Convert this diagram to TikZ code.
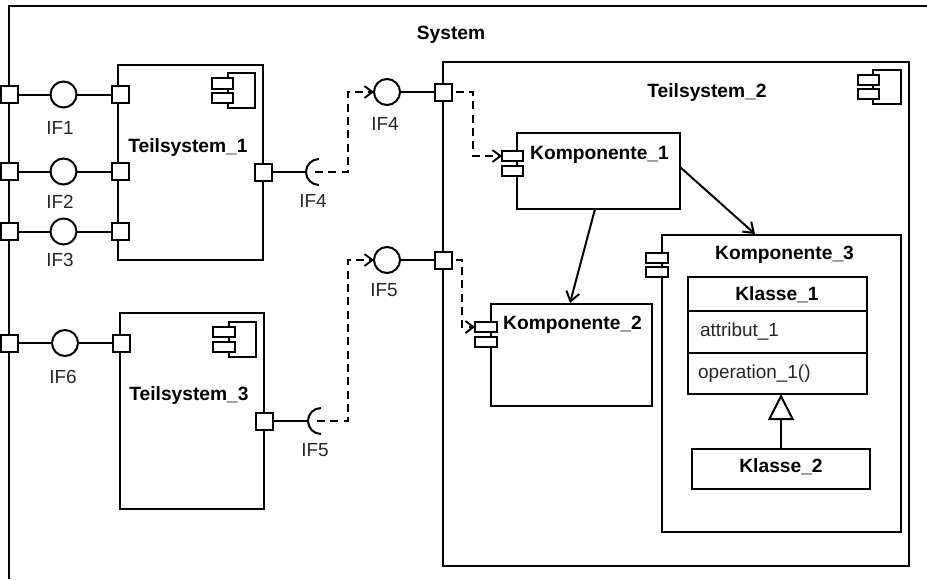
\documentclass[tikz,border=0pt]{standalone}
\usepackage{fontspec}
\setmainfont{Liberation Sans}
\usetikzlibrary{arrows.meta}
\newcommand{\pxbox}[6][]{\node[boxed,#1,minimum width={(#5-#3)*.75pt},minimum height={(#6-#4)*.75pt}] (#2) at ({(#3+#5)/2},{(#4+#6)/2}) {};}
\tikzset{
  boxed/.style={draw=black,fill=white,line width=1.5pt,inner sep=0pt,outer sep=0pt,rectangle},
  port/.style={boxed,minimum size=12.75pt},
  lolly/.style={draw=black,fill=white,line width=1.5pt,circle,inner sep=0pt,outer sep=0pt,minimum size=19.5pt},
  conn/.style={line width=1.5pt,black},
  dep/.style={line width=1.4pt,black,dash pattern=on 6pt off 4pt,-{Straight Barb[length=6pt,width=9pt,line width=1.4pt]}},
  assoc/.style={line width=1.5pt,black,-{Straight Barb[length=7pt,width=10pt,line width=1.5pt]}},
  lbl/.style={font=\fontsize{14.2}{16}\selectfont,inner sep=0pt,outer sep=0pt,text=black!85},
  ttl/.style={font=\fontsize{14.4}{16}\selectfont\bfseries,inner sep=0pt,outer sep=0pt,text=black},
  txl/.style={font=\fontsize{14.2}{16}\selectfont,inner sep=0pt,outer sep=0pt,anchor=west,text=black!85},
  gen/.style={line width=1.5pt,black,-{Triangle[open,fill=white,length=19.5pt,width=19.5pt,line width=1.5pt]}},
}
\begin{document}
\begin{tikzpicture}[x=.75pt,y=-.75pt]
\useasboundingbox (0,0) rectangle (927,579);
% system frame
\coordinate (sysA) at (9,579);
\coordinate (sysB) at (9,6);
\coordinate (sysC) at (927,6);
\draw[conn] (sysA) -- (sysB) -- (sysC);
\node[ttl] (system) at (451,35) {System};
% Teilsystem 1
\pxbox{t1}{118}{65}{263}{260}
\pxbox{t1ia}{228}{73}{255}{108}
\pxbox{t1ib}{212}{78}{233}{89}
\pxbox{t1ic}{212}{93}{233}{103}
\node[ttl] (t1l) at (188,148) {Teilsystem\_1};
% Teilsystem 3
\pxbox{t3}{120}{313}{264}{509}
\pxbox{t3ia}{229}{322}{256}{357}
\pxbox{t3ib}{213}{327}{235}{337}
\pxbox{t3ic}{213}{342}{235}{352}
\node[ttl] (t3l) at (189,396) {Teilsystem\_3};
% Teilsystem 2
\pxbox{t2}{443}{62}{909}{566}
\pxbox{t2ia}{873}{70}{901}{104}
\pxbox{t2ib}{858}{75}{879}{85}
\pxbox{t2ic}{858}{89}{879}{99}
\node[ttl] (t2l) at (707,93) {Teilsystem\_2};
% Komponente 1
\pxbox{k1}{517}{133}{680}{209}
\pxbox{k1a}{502}{151}{523}{161}
\pxbox{k1b}{502}{166}{523}{176}
\node[ttl] (k1l) at (599.5,155) {Komponente\_1};
% Komponente 2
\pxbox{k2}{491}{304}{652}{406}
\pxbox{k2a}{475}{322}{497}{332}
\pxbox{k2b}{475}{337}{497}{347}
\node[ttl] (k2l) at (572.5,325) {Komponente\_2};
% Komponente 3
\pxbox{k3}{662}{235}{901}{532}
\pxbox{k3a}{646}{253}{668}{263}
\pxbox{k3b}{646}{267}{668}{277}
\node[ttl] (k3l) at (784.5,255) {Komponente\_3};
% classes
\pxbox{c1}{688}{277}{867}{311}
\pxbox{c1b}{688}{311}{867}{353}
\pxbox{c1c}{688}{353}{867}{394}
\node[ttl] (c1l) at (777,295) {Klasse\_1};
\node[txl] (c1a) at (700,332) {attribut\_1};
\node[txl] (c1o) at (698,374) {operation\_1()};
\pxbox{c2}{692}{449}{870}{489}
\node[ttl] (c2l) at (781,467) {Klasse\_2};
\draw[gen] (c2.north) -- (c2.north |- c1c.south);
% left ports
\node[port] (s1) at (9.5,94.5) {};
\node[port] (s2) at (9.5,171.5) {};
\node[port] (s3) at (9.5,231.5) {};
\node[port] (s6) at (9.5,343) {};
% subsystem ports
\node[port] (t1p1) at (120,94.5) {};
\node[port] (t1p2) at (120,171.5) {};
\node[port] (t1p3) at (120,231.5) {};
\node[port] (t1p4) at (263,172) {};
\node[port] (t3p1) at (121,343) {};
\node[port] (t3p2) at (264,421) {};
\node[port] (t2p1) at (443,92) {};
\node[port] (t2p2) at (443,260) {};
% lollipops
\node[lolly] (i1) at (63.5,94.5) {};
\node[lolly] (i2) at (63.5,171.5) {};
\node[lolly] (i3) at (63.5,231.5) {};
\node[lolly] (i6) at (65,343) {};
\node[lolly] (i4) at (387,92) {};
\node[lolly] (i5) at (387,260) {};
\draw[conn] (s1) -- (i1) -- (t1p1);
\draw[conn] (s2) -- (i2) -- (t1p2);
\draw[conn] (s3) -- (i3) -- (t1p3);
\draw[conn] (s6) -- (i6) -- (t3p1);
\draw[conn] (i4) -- (t2p1);
\draw[conn] (i5) -- (t2p2);
% sockets
\coordinate (r4) at (319,172);
\coordinate (r5) at (321,421);
\draw[conn] (r4) ++(0,-13) arc[start angle=270,end angle=90,radius=13];
\draw[conn] (r5) ++(0,-13) arc[start angle=270,end angle=90,radius=13];
\draw[conn] (t1p4) -- ([xshift=-9.75pt]r4);
\draw[conn] (t3p2) -- ([xshift=-9.75pt]r5);
% dependencies
\coordinate (d4) at (348,92);
\coordinate (d5) at (348,260);
\coordinate (d6) at (473,92);
\coordinate (d7) at (462,260);
\draw[dep] ([xshift=-3pt]r4) -| (d4) -- (i4.west);
\draw[dep] ([xshift=-3pt]r5) -| (d5) -- (i5.west);
\draw[dep] ([xshift=3pt]t2p1.east) -| (d6) |- (k1a.west);
\draw[dep] ([xshift=3pt]t2p2.east) -| (d7) |- (k2a.west);
% associations
\coordinate (a1) at (680,167);
\coordinate (a2) at (755,234);
\coordinate (a3) at (595,209);
\coordinate (a4) at (570,303);
\draw[assoc] (a1) -- (a2);
\draw[assoc] (a3) -- (a4);
% labels
\node[lbl] (l1) at (60,128) {IF1};
\node[lbl] (l2) at (60,202) {IF2};
\node[lbl] (l3) at (60,260) {IF3};
\node[lbl] (l4) at (313,201) {IF4};
\node[lbl] (l4b) at (385,124) {IF4};
\node[lbl] (l5b) at (384,290) {IF5};
\node[lbl] (l5) at (315,450) {IF5};
\node[lbl] (l6) at (63,377) {IF6};
\end{tikzpicture}
\end{document}
